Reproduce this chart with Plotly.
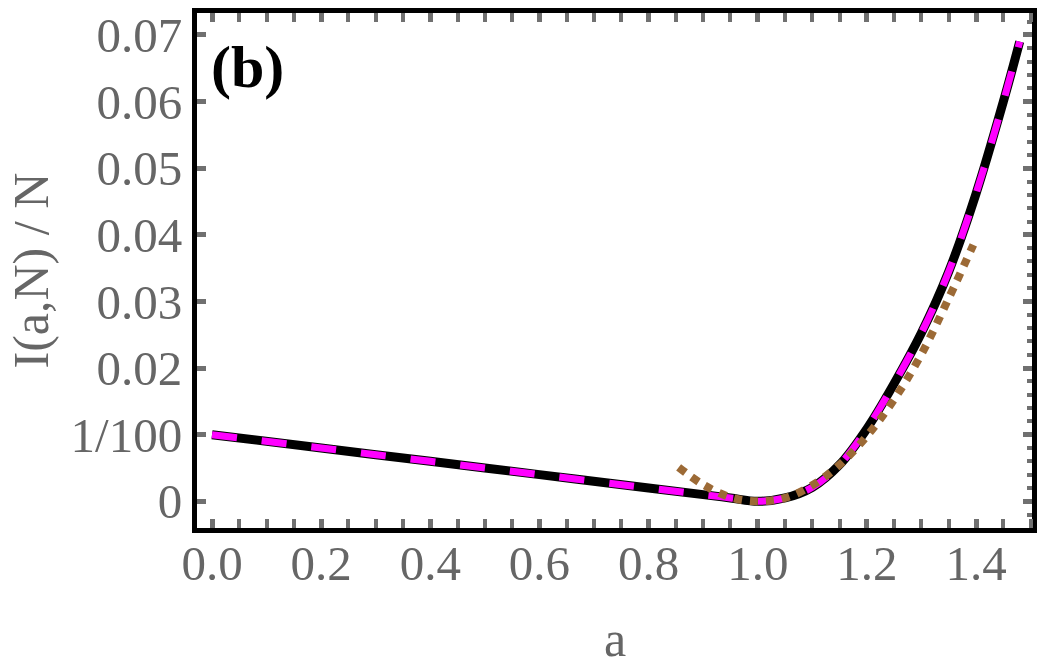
import plotly.graph_objects as go

# exact curve (black solid) and overlay (magenta dashed)
a_exact = [0.0, 0.2, 0.4, 0.6, 0.8, 0.9, 0.95, 1.0, 1.05, 1.1, 1.15, 1.2, 1.25, 1.3, 1.35, 1.4, 1.45, 1.48]
v_exact = [0.0100, 0.0080, 0.0060, 0.0040, 0.0020, 0.0010, 0.0005, 0.0000, 0.0005, 0.0021, 0.0055, 0.0109,
           0.0177, 0.0253, 0.0345, 0.0462, 0.0600, 0.0690]
a_approx = a_exact
v_approx = v_exact

# expansion around a = 1 (brown dotted)
a_expand = [0.855, 0.9, 0.95, 1.0, 1.05, 1.1, 1.15, 1.2, 1.25, 1.3, 1.35, 1.395]
v_expand = [0.0051, 0.0025, 0.0006, 0.0000, 0.0005, 0.0024, 0.0055, 0.0098, 0.0153, 0.0221, 0.0305, 0.0385]

x_ticks = [0.0, 0.2, 0.4, 0.6, 0.8, 1.0, 1.2, 1.4]
x_labels = ["0.0", "0.2", "0.4", "0.6", "0.8", "1.0", "1.2", "1.4"]
y_ticks = [0.0, 0.01, 0.02, 0.03, 0.04, 0.05, 0.06, 0.07]
y_labels = ["0", "1/100", "0.02", "0.03", "0.04", "0.05", "0.06", "0.07"]

FONT = "Liberation Serif"
GRAY = "#666666"
TICK = "#707070"
XR = [-0.0275, 1.5025]
YR = [-0.00401, 0.0733]

fig = go.Figure()
fig.add_trace(go.Scatter(x=a_exact, y=v_exact, mode="lines", line=dict(color="black", width=9, shape="spline"),
                         showlegend=False))
fig.add_trace(go.Scatter(x=a_approx, y=v_approx, mode="lines",
                         line=dict(color="#ff00ff", width=7, shape="spline", dash="25px,25px"), showlegend=False))
fig.add_trace(go.Scatter(x=a_expand, y=v_expand, mode="lines",
                         line=dict(color="#9c6a36", width=8, shape="spline", dash="dot"), showlegend=False))
# invisible trace for right-hand axis
fig.add_trace(go.Scatter(x=[XR[0]], y=[YR[0]], yaxis="y2", mode="markers", marker=dict(opacity=0),
                         showlegend=False, hoverinfo="skip"))

fig.update_layout(
    width=1042, height=669,
    margin=dict(l=197, r=10, t=8, b=141),
    paper_bgcolor="white", plot_bgcolor="white",
    xaxis=dict(range=XR, tickvals=x_ticks, ticktext=x_labels, showgrid=False, zeroline=False,
               showline=True, linecolor="black", linewidth=5, mirror="allticks",
               ticks="inside", ticklen=9, tickwidth=5, tickcolor=TICK, ticklabelstandoff=-12,
               minor=dict(dtick=0.05, ticks="inside", ticklen=5, tickwidth=4, tickcolor=TICK, showgrid=False),
               tickfont=dict(family=FONT, size=49, color=GRAY)),
    yaxis=dict(range=YR, tickvals=y_ticks, ticktext=y_labels, showgrid=False, zeroline=False,
               showline=True, linecolor="black", linewidth=5,
               ticks="inside", ticklen=9, tickwidth=5, tickcolor=TICK,
               tickfont=dict(family=FONT, size=49, color=GRAY)),
    yaxis2=dict(range=YR, overlaying="y", side="right", tickvals=y_ticks, showticklabels=False,
                showgrid=False, zeroline=False, showline=True, linecolor="black", linewidth=5,
                ticks="inside", ticklen=9, tickwidth=5, tickcolor=TICK,
                minor=dict(dtick=0.002, ticks="inside", ticklen=5, tickwidth=4, tickcolor=TICK, showgrid=False)),
    annotations=[
        dict(text="<b>(b)</b>", x=0.014, y=0.896, xref="paper", yref="paper", xanchor="left", yanchor="middle",
             showarrow=False, font=dict(family=FONT, size=60, color="black")),
        dict(text="a", x=0.5, y=-0.215, xref="paper", yref="paper", xanchor="center", yanchor="middle",
             showarrow=False, font=dict(family=FONT, size=50, color=GRAY)),
        dict(text="I(a,N) / N", x=-0.2, y=0.5, xref="paper", yref="paper", xanchor="center", yanchor="middle",
             textangle=-90, showarrow=False, font=dict(family=FONT, size=50, color=GRAY)),
    ],
)

fig.write_html("out.html")
